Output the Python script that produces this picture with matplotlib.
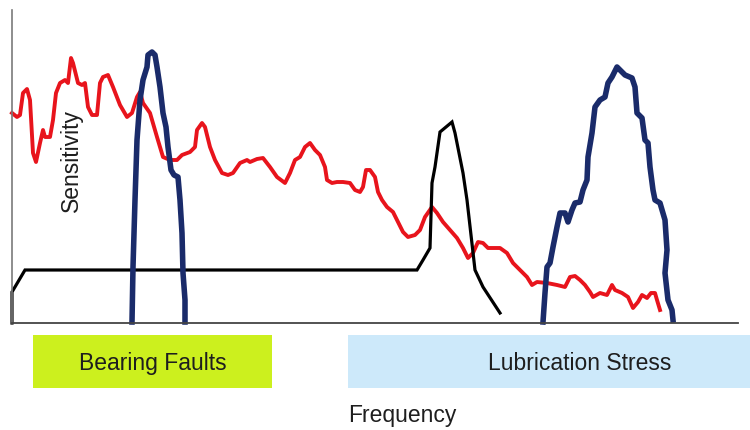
import matplotlib.pyplot as plt
from matplotlib.patches import Rectangle

plt.rcParams['font.family'] = ['Liberation Sans', 'DejaVu Sans']

# Sensitivity curves (x = frequency units, y = sensitivity units)
red_x = [12, 17, 20, 23, 27, 30, 33, 36, 40, 43, 45, 50, 53, 56, 60, 65, 68, 71, 73, 78,
         82, 85, 88, 92, 97, 100, 103, 108, 113, 120, 127, 132, 137, 140, 143, 150, 157, 163,
         170, 177, 182, 190, 195, 197, 202, 205, 210, 215, 222, 228, 233, 240, 247, 250, 257,
         263, 270, 277, 285, 290, 295, 300, 305, 310, 315, 320, 325, 327, 332, 337, 343, 350,
         355, 360, 363, 366, 370, 375, 378, 382, 387, 393, 398, 403, 408, 415, 420, 425, 432,
         437, 443, 450, 457, 463, 468, 473, 478, 483, 488, 497, 500, 507, 513, 520, 527, 532,
         537, 547, 557, 565, 570, 575, 580, 585, 590, 593, 600, 607, 612, 615, 622, 628, 633,
         638, 642, 647, 651, 655, 657, 660]
red_y = [210, 206, 208, 230, 234, 223, 170, 161, 180, 193, 186, 186, 203, 230, 240, 243, 240,
         265, 260, 240, 238, 240, 216, 208, 208, 240, 246, 248, 236, 218, 206, 210, 226, 231,
         220, 210, 186, 166, 163, 163, 168, 171, 176, 193, 200, 196, 176, 163, 150, 148, 150,
         160, 163, 161, 164, 165, 156, 146, 140, 150, 163, 166, 176, 180, 173, 168, 156, 143,
         140, 141, 141, 140, 133, 131, 136, 153, 153, 146, 131, 123, 116, 111, 101, 91, 86,
         88, 93, 106, 116, 110, 101, 93, 85, 75, 65, 70, 81, 80, 75, 75, 75, 70, 60, 53, 46,
         38, 41, 40, 38, 36, 46, 47, 43, 38, 31, 26, 30, 28, 38, 33, 30, 26, 15, 21, 28, 25,
         30, 30, 23, 13]

bearing_x = [132, 133, 135, 137, 140, 143, 147, 148, 152, 155, 157, 160, 163, 166, 168, 171,
             174, 178, 180, 182, 183, 185, 185]
bearing_y = [1, 56, 123, 183, 223, 243, 256, 268, 271, 268, 256, 236, 210, 196, 176, 153,
             148, 146, 123, 90, 50, 23, 1]

lube_x = [543, 545, 547, 550, 553, 557, 560, 565, 568, 572, 575, 580, 583, 587, 588, 592,
          595, 600, 605, 608, 612, 617, 620, 625, 632, 635, 637, 642, 645, 648, 650, 653,
          655, 660, 665, 667, 665, 668, 672, 673]
lube_y = [1, 30, 56, 60, 76, 96, 110, 110, 101, 113, 120, 121, 133, 143, 166, 190, 216, 223,
          226, 240, 246, 256, 253, 248, 245, 236, 210, 205, 183, 180, 156, 133, 123, 120, 103,
          73, 50, 23, 13, 3]

oil_x = [12, 12, 25, 417, 423, 430, 432, 435, 440, 452, 455, 463, 467, 475, 483, 500]
oil_y = [0, 31, 53, 53, 63, 75, 140, 156, 191, 201, 190, 150, 123, 53, 36, 10]

band_labels = ['Bearing Faults', 'Lubrication Stress']

W, H = 750, 430
fig = plt.figure(figsize=(W / 100, H / 100), dpi=100)
ax = fig.add_axes([12 / W, (H - 323) / H, 726 / W, 313 / H])

ax.plot(red_x, red_y, color='#e8141c', lw=2.8, solid_joinstyle='round', clip_on=False)
ax.plot(oil_x, oil_y, color='black', lw=2.3, solid_joinstyle='miter', clip_on=False)
ax.plot(bearing_x, bearing_y, color='#1a2b6a', lw=4.0, solid_joinstyle='round', clip_on=False)
ax.plot(lube_x, lube_y, color='#1a2b6a', lw=4.0, solid_joinstyle='round', clip_on=False)

ax.set_xlim(12, 738)
ax.set_ylim(0, 313)
ax.set_xticks([])
ax.set_yticks([])
ax.spines['top'].set_visible(False)
ax.spines['right'].set_visible(False)
ax.spines['left'].set_color('#7a7a7a')
ax.spines['left'].set_linewidth(1.2)
ax.spines['bottom'].set_color('#444444')
ax.spines['bottom'].set_linewidth(1.3)

# bands below the axis
fig.patches.append(Rectangle((33 / W, (H - 388) / H), 239 / W, 53 / H,
                             transform=fig.transFigure, facecolor='#ccf01e', edgecolor='none'))
fig.patches.append(Rectangle((348 / W, (H - 388) / H), 402 / W, 53 / H,
                             transform=fig.transFigure, facecolor='#cde9fa', edgecolor='none'))
fig.text(152.5 / W, (H - 370) / H, band_labels[0], ha='center', va='baseline',
         fontsize=16.5, color='#1e1e1e')
fig.text(580 / W, (H - 370) / H, band_labels[1], ha='center', va='baseline',
         fontsize=16.5, color='#1e1e1e')

fig.text(402 / W, (H - 422) / H, 'Frequency', ha='center', va='baseline',
         fontsize=16.5, color='#1e1e1e')
fig.text(71 / W, (H - 161) / H, 'Sensitivity', ha='center', va='center', rotation=90,
         fontsize=16.5, color='#1e1e1e')

fig.savefig('out.png', dpi=100)
